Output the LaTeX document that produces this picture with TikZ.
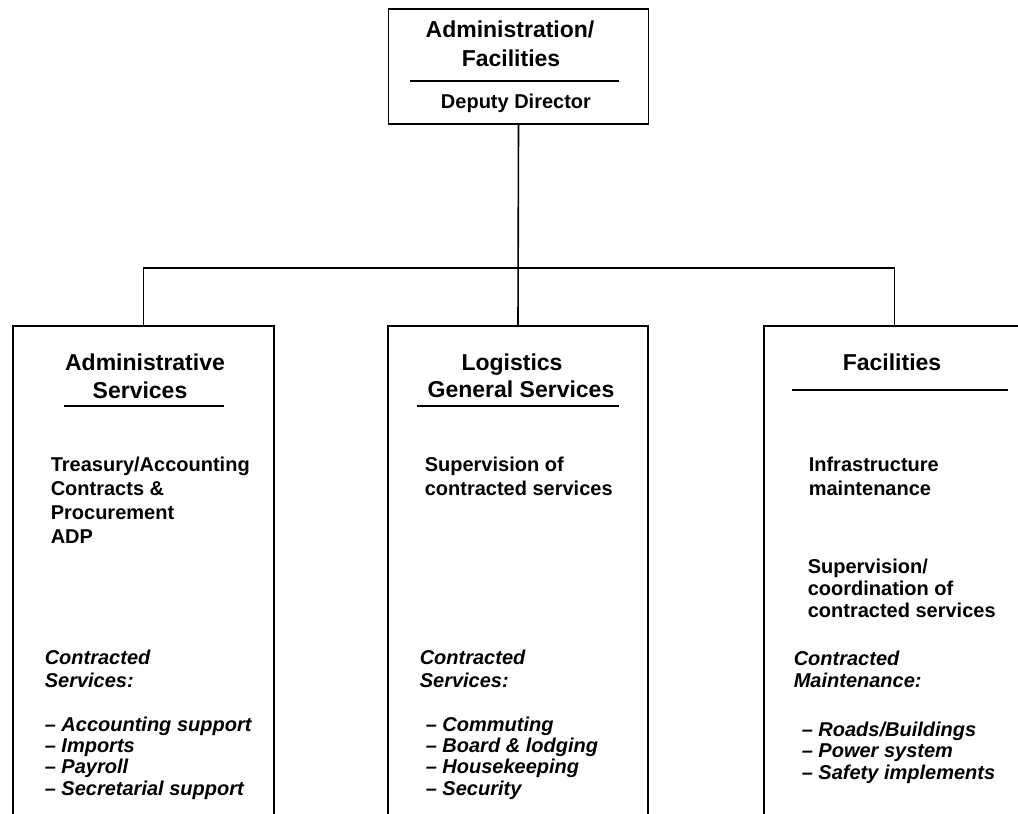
\documentclass[tikz,border=0pt]{standalone}
\usepackage{fontspec}
\setmainfont{Liberation Sans}
\begin{document}
\begin{tikzpicture}[x=1pt,y=-1pt,
  line width=1.6pt,
  box/.style={draw, line width=1.6pt, rectangle, inner sep=0pt},
  ttl/.style={inner sep=0pt, anchor=base, font=\fontsize{23}{27}\selectfont\bfseries},
  ttr/.style={inner sep=0pt, anchor=base, font=\fontsize{20}{24}\selectfont\bfseries},
  body/.style={inner sep=0pt, anchor=base west, font=\fontsize{20}{24}\selectfont\bfseries},
  ital/.style={inner sep=0pt, anchor=base west, font=\fontsize{20}{22}\selectfont\bfseries\itshape},
  rule/.style={line width=1.4pt}]
\useasboundingbox (0,0) rectangle (1018,814);
\clip (0,0) rectangle (1018,814);
\fill[white] (0,0) rectangle (1018,814);

% boxes
\node[box, minimum width=260pt, minimum height=115pt] (top) at (518.5,66.5) {};
\node[box, minimum width=261pt, minimum height=540pt] (adm) at (143.5,596) {};
\node[box, minimum width=260pt, minimum height=540pt] (log) at (518,596) {};
\node[box, minimum width=261pt, minimum height=540pt] (fac) at (894.5,596) {};

% connectors
\coordinate (bus) at (0,268);
\draw (top.south) -- (log.north);
\draw (adm.north) -- (adm.north |- bus) -- (fac.north |- bus) -- (fac.north);

% top box
\node[ttl] (t1) at (510,37) {Administration/};
\node[ttl] (t2) at (511,66) {Facilities};
\draw[rule] (410,81) -- (619,81);
\node[ttr] (t3) at (516,108) {Deputy Director};

% Administrative services
\node[ttl] (a1) at (145,370) {Administrative};
\node[ttl] (a2) at (140,398) {Services};
\draw[rule] (64,406) -- (224,406);
\node[body] (a3) at (50,471) {Treasury/Accounting};
\node[body] (a4) at (50,495) {Contracts \&};
\node[body] (a5) at (50,519) {Procurement};
\node[body] (a6) at (50,543) {ADP};
\node[ital] (a7) at (44,664) {Contracted};
\node[ital] (a8) at (44,687) {Services:};
\node[ital] (a9) at (44,731) {\textendash\ Accounting support};
\node[ital] (a10) at (44,752) {\textendash\ Imports};
\node[ital] (a11) at (44,773) {\textendash\ Payroll};
\node[ital] (a12) at (44,795) {\textendash\ Secretarial support};

% Logistics
\node[ttl] (l1) at (512,370) {Logistics};
\node[ttl] (l2) at (521,397) {General Services};
\draw[rule] (417,406) -- (619,406);
\node[body] (l3) at (424,471) {Supervision of};
\node[body] (l4) at (424,495) {contracted services};
\node[ital] (l5) at (419,664) {Contracted};
\node[ital] (l6) at (419,687) {Services:};
\node[ital] (l7) at (425,731) {\textendash\ Commuting};
\node[ital] (l8) at (425,752) {\textendash\ Board \& lodging};
\node[ital] (l9) at (425,773) {\textendash\ Housekeeping};
\node[ital] (l10) at (425,795) {\textendash\ Security};

% Facilities
\node[ttl] (f1) at (892,370) {Facilities};
\draw[rule] (792,390) -- (1008,390);
\node[body] (f2) at (808,471) {Infrastructure};
\node[body] (f3) at (808,495) {maintenance};
\node[body] (f4) at (807,573) {Supervision/};
\node[body] (f5) at (807,595) {coordination of};
\node[body] (f6) at (807,617) {contracted services};
\node[ital] (f7) at (793,665) {Contracted};
\node[ital] (f8) at (793,687) {Maintenance:};
\node[ital] (f9) at (801,736) {\textendash\ Roads/Buildings};
\node[ital] (f10) at (801,757) {\textendash\ Power system};
\node[ital] (f11) at (801,779) {\textendash\ Safety implements};
\end{tikzpicture}
\end{document}
